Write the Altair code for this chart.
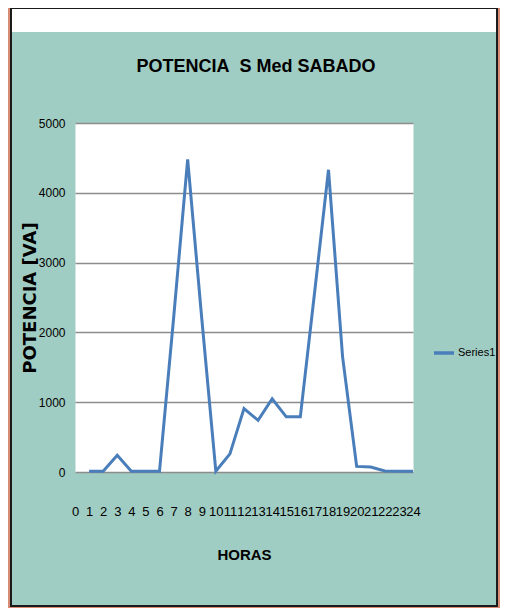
import altair as alt
import pandas as pd

# ---- data ----
hours = list(range(1, 25))
potencia = [10, 10, 240, 10, 10, 10, 2200, 4480, 2200, 10, 260, 910,
            740, 1050, 790, 790, 2550, 4330, 1650, 80, 70, 15, 10, 10]
series = ["Series1"] * len(hours)
x_ticks = list(range(0, 25))
y_ticks = [0, 1000, 2000, 3000, 4000, 5000]
chart_title = "POTENCIA\u00a0 S Med SABADO"

# ---- layout ----
W, H = 338, 349          # plot area
PL, PT = 67, 115         # left / top padding
TOTAL_W, TOTAL_H = 492, 600
PR = TOTAL_W - PL - W
PB = TOTAL_H - PT - H

FONT = "Liberation Sans, Arial, sans-serif"
TEAL = "#a0cdc3"
SALMON = "#d78c73"
LINE = "#4a7ebb"

df = pd.DataFrame({"hora": hours, "potencia": potencia, "serie": series})
one = alt.Data(values=[{"t": chart_title}])

# decorative frame (outside the plot area)
band = alt.Chart(one).mark_rect(color="white").encode(
    x=alt.value(4 - PL), x2=alt.value(488 - PL),
    y=alt.value(-PT), y2=alt.value(24 - PT))

salmon = alt.Chart(one).mark_rect(fillOpacity=0, stroke=SALMON, strokeWidth=5).encode(
    x=alt.value(-PL), x2=alt.value(TOTAL_W - PL),
    y=alt.value(-PT - 10), y2=alt.value(TOTAL_H - PT))

dark = alt.Chart(one).mark_rect(fillOpacity=0, stroke="#1b1b1b", strokeWidth=2).encode(
    x=alt.value(3 - PL), x2=alt.value(489 - PL),
    y=alt.value(-PT), y2=alt.value(598 - PT))

title = alt.Chart(one).mark_text(font=FONT, fontSize=18, fontWeight="bold",
                                 color="black", baseline="alphabetic",
                                 align="center").encode(
    text="t:N", x=alt.value(181), y=alt.value(-51))

line = alt.Chart(df).mark_line(strokeWidth=3).encode(
    x=alt.X("hora:Q",
            scale=alt.Scale(domain=[0, 24], nice=False),
            axis=alt.Axis(values=x_ticks, title="HORAS", grid=False, ticks=False,
                          domain=False, labelFont=FONT, labelFontSize=13,
                          labelColor="black", labelPadding=33, labelOverlap=False,
                          labelFlush=False, titleFont=FONT, titleFontSize=15,
                          titleFontWeight="bold", titleColor="black",
                          titleX=W / 2, titleY=82, titleBaseline="middle")),
    y=alt.Y("potencia:Q",
            scale=alt.Scale(domain=[0, 5000], nice=False),
            axis=alt.Axis(values=y_ticks, format="d", title="POTENCIA [VA]",
                          grid=True, gridColor="#8c8c8c", gridWidth=1.6,
                          ticks=False, domain=False, labelFont=FONT,
                          labelFontSize=12, labelColor="black", labelPadding=10,
                          titleFont="DejaVu Sans", titleFontSize=18,
                          titleFontWeight="bold", titleColor="black",
                          titleX=-45, titleY=H / 2, titleBaseline="middle")),
    color=alt.Color("serie:N", scale=alt.Scale(range=[LINE]),
                    legend=alt.Legend(title=None, orient="none", legendX=357,
                                      legendY=218, symbolType="stroke",
                                      symbolSize=400, symbolStrokeWidth=3.5,
                                      labelFont=FONT, labelFontSize=11,
                                      labelColor="black", labelOffset=2,
                                      padding=0)),
)

chart = alt.layer(band, salmon, dark, title, line).properties(
    width=W, height=H,
    padding={"left": PL, "top": PT, "right": PR, "bottom": PB},
    autosize=alt.AutoSizeParams(type="none"),
    background=TEAL,
).configure_view(fill="white", stroke="transparent")

chart.save("out.html", embed_options={"renderer": "svg", "actions": False})
